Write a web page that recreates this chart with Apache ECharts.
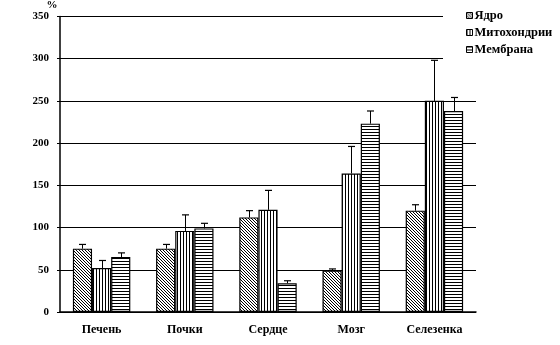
<!DOCTYPE html>
<html>
<head>
<meta charset="utf-8">
<script src="https://cdn.jsdelivr.net/npm/echarts@6/dist/echarts.min.js"></script>
<style>
  html, body { margin: 0; padding: 0; background: #fff; }
  #chart { width: 560px; height: 345px; }
</style>
</head>
<body>
<div id="chart"></div>
<script>
// Organ categories and fraction names
const categories = ['Печень', 'Почки', 'Сердце', 'Мозг', 'Селезенка'];
const seriesNames = ['Ядро', 'Митохондрии', 'Мембрана'];

// Mean values, %
const nucleus = [75, 75, 112, 49, 120];
const mitochondria = [52, 96, 121, 164, 250];
const membrane = [65, 99, 34, 223, 238];

// Upper error (SD), %
const nucleusErr = [5, 5, 8, 2, 7];
const mitochondriaErr = [9, 19, 23, 32, 48];
const membraneErr = [5, 6, 3, 15, 16];

// Value axis range
const yMin = 0, yMax = 350, yStep = 50;

const FONT = '"Liberation Serif", "Times New Roman", serif';
const CAT_GAP = 0.31;

// Monochrome hatch fills
function makePattern(kind) {
  const c = document.createElement('canvas');
  const ctx = c.getContext('2d');
  if (kind === 'diag') {
    c.width = 3; c.height = 3;
    ctx.fillStyle = '#fff'; ctx.fillRect(0, 0, 3, 3);
    ctx.fillStyle = '#000';
    ctx.fillRect(0, 0, 1, 1); ctx.fillRect(1, 1, 1, 1); ctx.fillRect(2, 2, 1, 1);
  } else if (kind === 'vert') {
    c.width = 3; c.height = 3;
    ctx.fillStyle = '#fff'; ctx.fillRect(0, 0, 3, 3);
    ctx.fillStyle = '#000'; ctx.fillRect(0, 0, 1, 3);
  } else {
    c.width = 3; c.height = 3;
    ctx.fillStyle = '#fff'; ctx.fillRect(0, 0, 3, 3);
    ctx.fillStyle = '#000'; ctx.fillRect(0, 0, 3, 1);
  }
  return { image: c, repeat: 'repeat' };
}

const values = [nucleus, mitochondria, membrane];
const errors = [nucleusErr, mitochondriaErr, membraneErr];
const patterns = [makePattern('diag'), makePattern('vert'), makePattern('horiz')];

const barSeries = seriesNames.map((name, i) => ({
  name: name,
  type: 'bar',
  data: values[i],
  barGap: '0%',
  barCategoryGap: (CAT_GAP * 100) + '%',
  itemStyle: { color: patterns[i], borderColor: '#000', borderWidth: 1.2 },
  z: 3
}));

// Upper whiskers with a short cap, placed over each bar of the group
const errorSeries = seriesNames.map((name, i) => ({
  type: 'custom',
  name: name + ' err',
  data: values[i].map((v, k) => [k, v, errors[i][k]]),
  z: 4,
  silent: true,
  renderItem: function (params, api) {
    const k = api.value(0), v = api.value(1), e = api.value(2);
    const band = api.size([1, 0])[0];
    const bw = band * (1 - CAT_GAP) / seriesNames.length;
    const off = (i - (seriesNames.length - 1) / 2) * bw;
    const base = api.coord([k, v]);
    const top = api.coord([k, v + e]);
    const x = Math.round(base[0] + off) + 0.5;
    const cap = 3.5;
    return {
      type: 'group',
      children: [
        { type: 'line', shape: { x1: x, y1: base[1], x2: x, y2: top[1] }, style: { stroke: '#000', lineWidth: 1 } },
        { type: 'line', shape: { x1: x - cap, y1: top[1], x2: x + cap, y2: top[1] }, style: { stroke: '#000', lineWidth: 1.2 } }
      ]
    };
  }
}));

const chart = echarts.init(document.getElementById('chart'), null, { renderer: 'canvas' });
chart.setOption({
  animation: false,
  backgroundColor: '#fff',
  grid: { left: 60, right: 84, top: 15, bottom: 33 },
  legend: {
    data: seriesNames,
    orient: 'vertical',
    icon: 'rect',
    left: 443,
    top: 0,
    padding: [9, 6, 12, 23],
    itemWidth: 6,
    itemHeight: 6,
    itemGap: 4,
    backgroundColor: '#fff',
    textStyle: { fontFamily: FONT, fontWeight: 'bold', fontSize: 12.5, color: '#000', padding: [0, 0, 0, -3] },
    itemStyle: { borderColor: '#000', borderWidth: 1 }
  },
  xAxis: {
    type: 'category',
    data: categories,
    axisLine: { lineStyle: { color: '#000', width: 1.5 } },
    axisTick: { show: false },
    axisLabel: { fontFamily: FONT, fontWeight: 'bold', fontSize: 12, color: '#000', margin: 12 }
  },
  yAxis: {
    type: 'value',
    min: yMin,
    max: yMax,
    interval: yStep,
    name: '%',
    nameLocation: 'end',
    nameGap: 4,
    nameTextStyle: { fontFamily: FONT, fontWeight: 'bold', fontSize: 11, color: '#000', padding: [0, 16, 0, 0] },
    axisLine: { show: true, lineStyle: { color: '#000', width: 1.5 } },
    axisTick: { show: true, length: 3, lineStyle: { color: '#000' } },
    axisLabel: { fontFamily: FONT, fontWeight: 'bold', fontSize: 11, color: '#000', margin: 11 },
    splitLine: { lineStyle: { color: '#000', width: 1 } }
  },
  series: barSeries.concat(errorSeries)
});
</script>
</body>
</html>
